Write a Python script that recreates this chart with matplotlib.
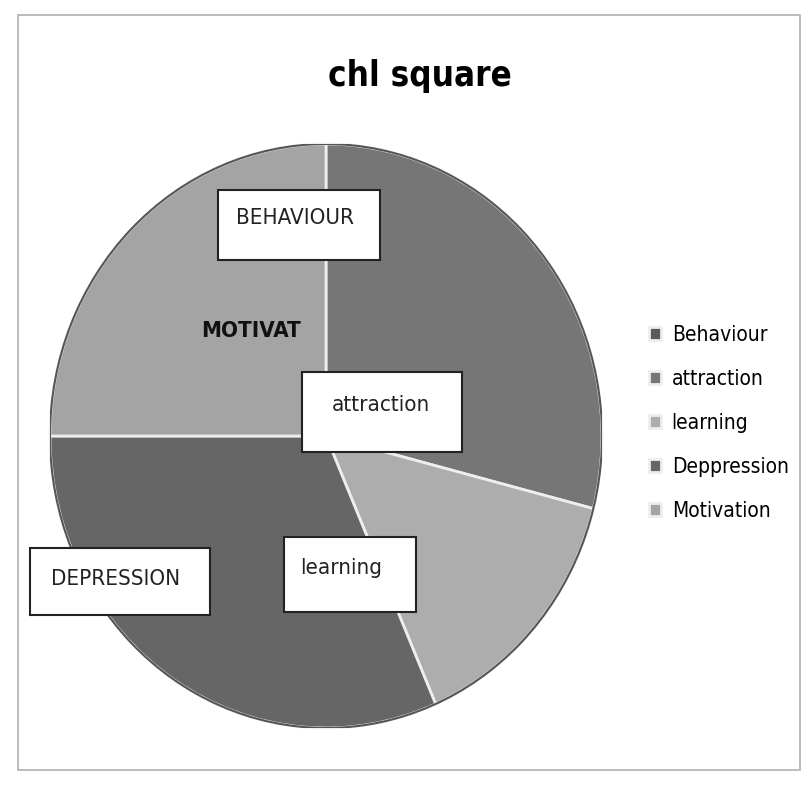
import matplotlib
matplotlib.use("Agg")
import matplotlib.pyplot as plt
from matplotlib.patches import Rectangle

# Data (Behaviour slice has zero size)
categories = ["Behaviour", "attraction", "learning", "Deppression", "Motivation"]
values = [0, 29, 14.5, 31.5, 25]
colors = ["#5a5a5a", "#767676", "#adadad", "#666666", "#a4a4a4"]

# Data labels shown on the slices
box_labels = ["BEHAVIOUR", "attraction", "learning", "DEPRESSION"]
inner_label = "MOTIVAT"

plt.rcParams['font.family'] = ['DejaVu Sans']
plt.rcParams['font.stretch'] = 'condensed'

W, H = 804, 789
fig = plt.figure(figsize=(W / 100, H / 100), dpi=100)


def fx(px):
    return px / W


def fy(py):
    return 1 - py / H


# chart frame
fig.patches.append(Rectangle((fx(18), fy(770)), fx(800) - fx(18), fy(15) - fy(770),
                             transform=fig.transFigure, fill=False,
                             edgecolor="#b0b0b0", lw=1.2))

# pie axes: centre about (326, 436) px, slightly taller than wide (photo)
cx, cy, rx, ry = 326, 436, 276, 292
ax = fig.add_axes([fx(cx - rx), fy(cy + ry), 2 * rx / W, 2 * ry / H])
wedges, _ = ax.pie(values, colors=colors, startangle=90, counterclock=False,
                   radius=1, wedgeprops=dict(edgecolor="#eeeeee", linewidth=2))
ax.set_xlim(-1, 1)
ax.set_ylim(-1, 1)
ax.set_aspect("auto")
ax.axis("off")
# darker rim around the pie
ax.add_patch(plt.Circle((0, 0), 1, fill=False, edgecolor="#555555", lw=1.5))

fig.text(fx(420), fy(76), "chl square", fontsize=25, fontweight="bold",
         ha="center", va="center")

# label boxes: (left, top, right, bottom) in px, text position
boxes = [
    ((218, 190, 380, 260), (295, 218)),
    ((302, 372, 462, 452), (381, 405)),
    ((284, 537, 416, 612), (341, 568)),
    ((30, 548, 210, 615), (116, 579)),
]
for text, ((x0, y0, x1, y1), (tx, ty)) in zip(box_labels, boxes):
    fig.patches.append(Rectangle((fx(x0), fy(y1)), fx(x1) - fx(x0), fy(y0) - fy(y1),
                                 transform=fig.transFigure, facecolor="white",
                                 edgecolor="#222222", lw=1.5, zorder=3))
    fig.text(fx(tx), fy(ty), text, fontsize=16, ha="center", va="center",
             color="#222222", zorder=4)

fig.text(fx(251), fy(331), inner_label, fontsize=16, fontweight="bold",
         ha="center", va="center", color="#111111")

fig.legend(wedges, categories, loc="center left",
           bbox_to_anchor=(fx(630), fy(423)), frameon=False, fontsize=15,
           handlelength=0.6, handleheight=0.6, handletextpad=0.5,
           labelspacing=1.15)

fig.savefig("out.png", dpi=100, facecolor="white")
